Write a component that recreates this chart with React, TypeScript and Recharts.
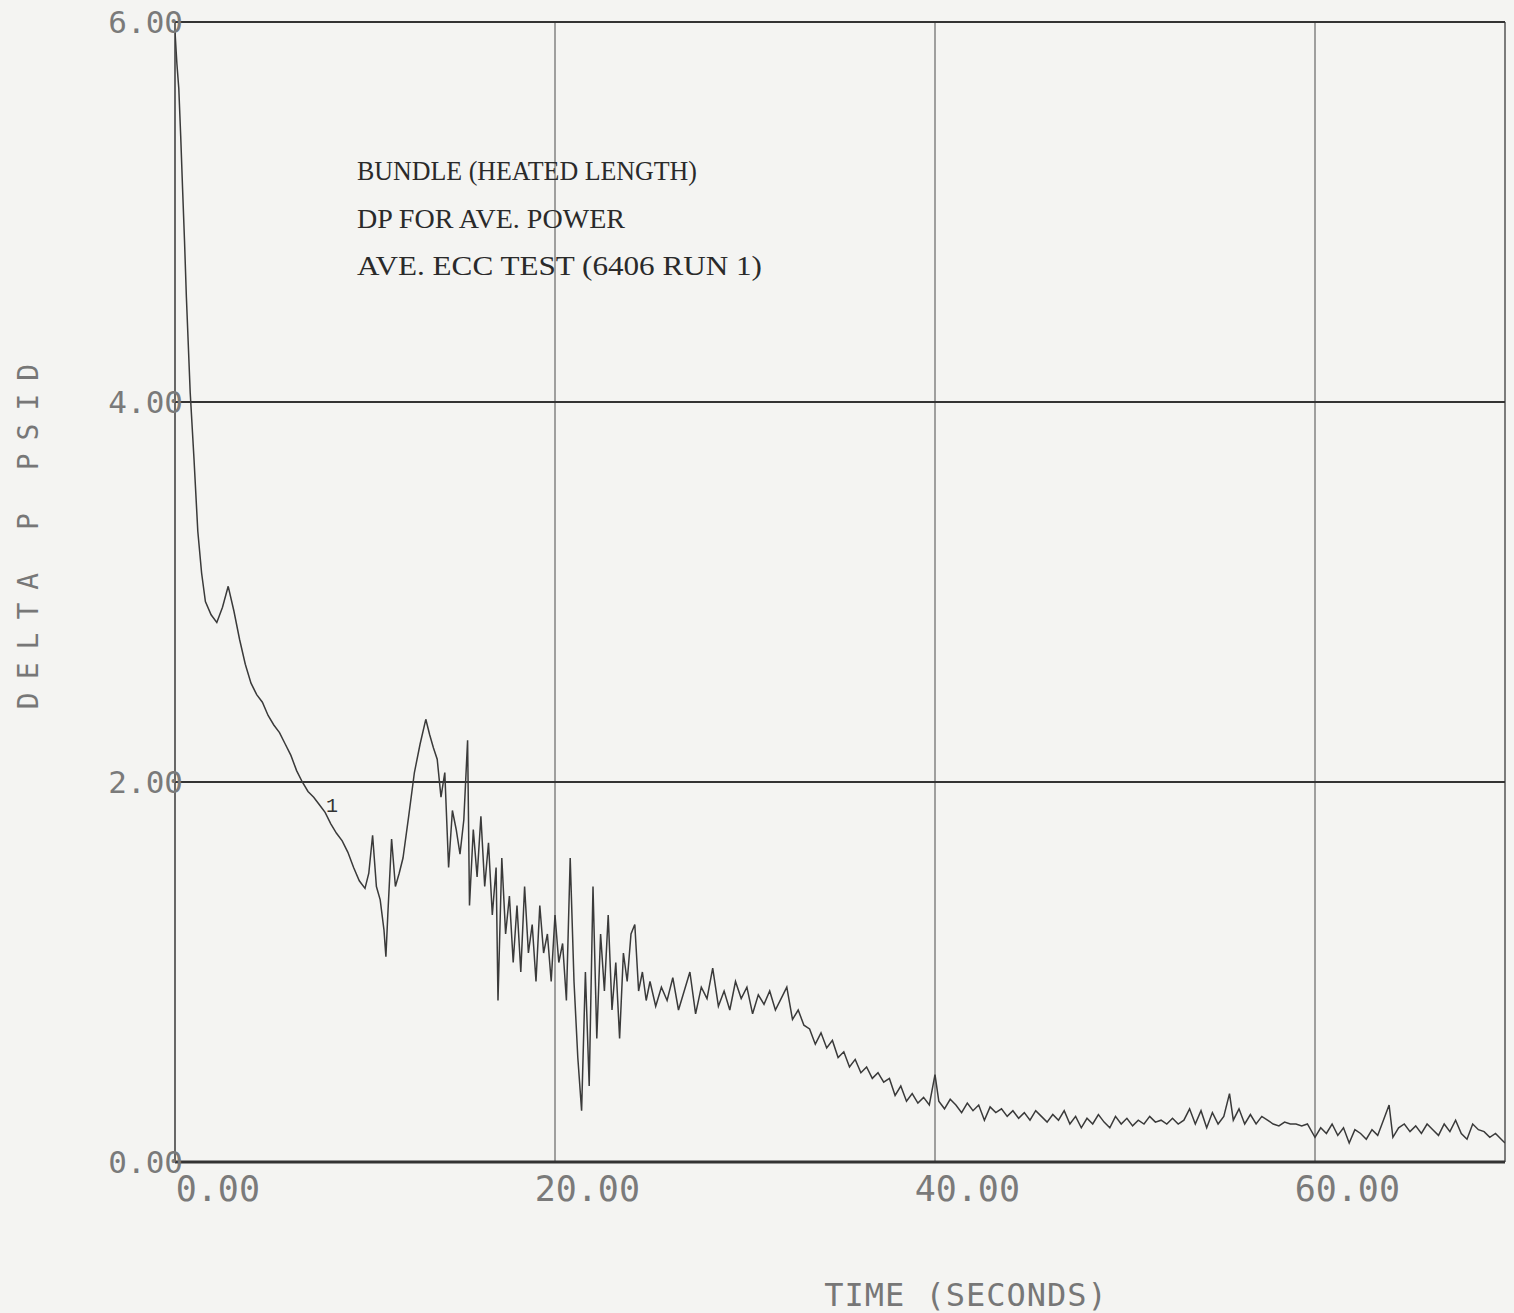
import { LineChart, Line, XAxis, YAxis, ReferenceLine } from 'recharts';

// time (s) and bundle delta-P (psid)
const TIMES = [
  0.0, 0.1, 0.2, 0.3, 0.4, 0.5, 0.6, 0.8, 1.0, 1.2, 1.4, 1.6, 1.9, 2.2, 2.5, 2.8,
  3.1, 3.4, 3.7, 4.0, 4.3, 4.6, 4.9, 5.2, 5.5, 5.8, 6.1, 6.4, 6.7, 7.0, 7.3, 7.6,
  7.9, 8.2, 8.5, 8.8, 9.1, 9.4, 9.7, 10.0, 10.2, 10.4, 10.6, 10.8, 11.0, 11.1,
  11.2, 11.4, 11.6, 11.8, 12.0, 12.3, 12.6, 12.9, 13.2, 13.4, 13.6, 13.8,
  14.0, 14.2, 14.4, 14.6, 14.8, 15.0, 15.2, 15.4, 15.5, 15.7, 15.9, 16.1, 16.3,
  16.5, 16.7, 16.9, 17.0, 17.2, 17.4, 17.6, 17.8, 18.0, 18.2, 18.4, 18.6, 18.8,
  19.0, 19.2, 19.4, 19.6, 19.8, 20.0, 20.2, 20.4, 20.6, 20.8, 21.0, 21.2, 21.4,
  21.6, 21.8, 22.0, 22.2, 22.4, 22.6, 22.8, 23.0, 23.2, 23.4, 23.6, 23.8, 24.0,
  24.2, 24.4, 24.6, 24.8,
  25.0, 25.3, 25.6, 25.9, 26.2, 26.5, 26.8, 27.1, 27.4, 27.7, 28.0, 28.3, 28.6,
  28.9, 29.2, 29.5, 29.8, 30.1, 30.4, 30.7, 31.0, 31.3, 31.6, 31.9, 32.2, 32.5,
  32.8, 33.1, 33.4, 33.7, 34.0, 34.3, 34.6, 34.9, 35.2, 35.5, 35.8, 36.1, 36.4,
  36.7, 37.0, 37.3, 37.6, 37.9, 38.2, 38.5, 38.8, 39.1, 39.4, 39.7, 40.0, 40.2,
  40.5, 40.8, 41.1, 41.4, 41.7, 42.0, 42.3, 42.6, 42.9, 43.2, 43.5, 43.8, 44.1,
  44.4, 44.7, 45.0, 45.3, 45.6, 45.9, 46.2, 46.5, 46.8, 47.1, 47.4, 47.7, 48.0,
  48.3, 48.6, 48.9, 49.2, 49.5, 49.8, 50.1, 50.4, 50.7, 51.0, 51.3, 51.6, 51.9,
  52.2, 52.5, 52.8, 53.1, 53.4, 53.7, 54.0, 54.3, 54.6, 54.9, 55.2, 55.5, 55.7,
  56.0, 56.3, 56.6, 56.9, 57.2, 57.5, 57.8, 58.1, 58.4, 58.7, 59.0, 59.3, 59.6,
  60.0, 60.3, 60.6, 60.9, 61.2, 61.5, 61.8, 62.1, 62.4, 62.7, 63.0, 63.3, 63.6,
  63.9, 64.1, 64.4, 64.7, 65.0, 65.3, 65.6, 65.9, 66.2, 66.5, 66.8, 67.1, 67.4,
  67.7, 68.0, 68.3, 68.6, 68.9, 69.2, 69.5, 69.8, 70.0,
];

const DELTA_P = [
  5.95, 5.78, 5.65, 5.4, 5.12, 4.85, 4.55, 4.05, 3.7, 3.32, 3.1, 2.95, 2.88, 2.84, 2.92, 3.03,
  2.9, 2.75, 2.62, 2.52, 2.46, 2.42, 2.35, 2.3, 2.26, 2.2, 2.14, 2.06, 2.0, 1.95, 1.92, 1.88,
  1.84, 1.78, 1.73, 1.69, 1.63, 1.55, 1.48, 1.44, 1.52, 1.72, 1.45, 1.38, 1.22, 1.08,
  1.3, 1.7, 1.45, 1.52, 1.6, 1.82, 2.05, 2.2, 2.33, 2.25, 2.18, 2.12,
  1.92, 2.05, 1.55, 1.85, 1.75, 1.62, 1.8, 2.22, 1.35, 1.75, 1.5, 1.82, 1.45,
  1.68, 1.3, 1.55, 0.85, 1.6, 1.2, 1.4, 1.05, 1.35, 1.0, 1.45, 1.1, 1.25,
  0.95, 1.35, 1.1, 1.2, 0.95, 1.3, 1.05, 1.15, 0.85, 1.6, 0.95, 0.55, 0.27,
  1.0, 0.4, 1.45, 0.65, 1.2, 0.9, 1.3, 0.8, 1.05, 0.65, 1.1, 0.95, 1.2,
  1.25, 0.9, 1.0, 0.85,
  0.95, 0.82, 0.92, 0.85, 0.97, 0.8, 0.9, 1.0, 0.78, 0.92, 0.86, 1.02, 0.82,
  0.9, 0.8, 0.95, 0.86, 0.92, 0.78, 0.88, 0.83, 0.9, 0.8, 0.86, 0.92, 0.75,
  0.8, 0.72, 0.7, 0.62, 0.68, 0.6, 0.64, 0.55, 0.58, 0.5, 0.54, 0.47, 0.5,
  0.44, 0.47, 0.42, 0.44, 0.35, 0.4, 0.32, 0.36, 0.31, 0.34, 0.3, 0.46, 0.32,
  0.28, 0.33, 0.3, 0.26, 0.31, 0.27, 0.3, 0.22, 0.29, 0.26, 0.28, 0.24, 0.27,
  0.23, 0.26, 0.22, 0.27, 0.24, 0.21, 0.25, 0.22, 0.27, 0.2, 0.24, 0.18, 0.23,
  0.2, 0.25, 0.21, 0.18, 0.24, 0.2, 0.23, 0.19, 0.22, 0.2, 0.24, 0.21, 0.22,
  0.2, 0.23, 0.2, 0.22, 0.28, 0.2, 0.27, 0.18, 0.26, 0.2, 0.24, 0.36, 0.22,
  0.28, 0.2, 0.25, 0.2, 0.24, 0.22, 0.2, 0.19, 0.21, 0.2, 0.2, 0.19, 0.2,
  0.13, 0.18, 0.15, 0.2, 0.14, 0.18, 0.1, 0.17, 0.15, 0.12, 0.17, 0.14, 0.22,
  0.3, 0.13, 0.18, 0.2, 0.16, 0.19, 0.15, 0.2, 0.17, 0.14, 0.2, 0.16, 0.22,
  0.15, 0.12, 0.2, 0.17, 0.16, 0.13, 0.15, 0.12, 0.1,
];

const X_TICKS = [0, 20, 40, 60];
const Y_TICKS = [0, 2, 4, 6];
const NOTES = ['BUNDLE (HEATED LENGTH)', 'DP FOR AVE. POWER', 'AVE. ECC TEST (6406 RUN 1)'];
const NOTE_WIDTHS = [340, 268, 405];

const data = TIMES.map((t, i) => ({ t, dp: DELTA_P[i] }));

const tickFont = '"DejaVu Sans Mono", monospace';

function XTick({ x, y, payload }: any) {
  return (
    <text x={x + 85} y={y + 31} textAnchor="end" fontFamily={tickFont} fontSize={35} fill="#7a7a7a">
      {payload.value.toFixed(2)}
    </text>
  );
}

function YTick({ y, payload }: any) {
  return (
    <text x={183} y={y + 11} textAnchor="end" fontFamily={tickFont} fontSize={31} fill="#7a7a7a">
      {payload.value.toFixed(2)}
    </text>
  );
}

export default function App() {
  return (
    <div style={{ position: 'absolute', left: 0, top: 0, width: 1514, height: 1313, background: '#f4f4f2' }}>
      <LineChart width={1514} height={1313} data={data} margin={{ top: 22, right: 9, bottom: 91, left: 100 }}>
        <XAxis
          type="number"
          dataKey="t"
          domain={[0, 70]}
          ticks={X_TICKS}
          height={60}
          axisLine={false}
          tickLine={false}
          tick={<XTick />}
          allowDataOverflow
        />
        <YAxis
          type="number"
          domain={[0, 6]}
          ticks={Y_TICKS}
          width={75}
          axisLine={false}
          tickLine={false}
          tick={<YTick />}
          allowDataOverflow
        />
        <ReferenceLine x={20} stroke="#666" strokeWidth={1.2} />
        <ReferenceLine x={40} stroke="#666" strokeWidth={1.2} />
        <ReferenceLine x={60} stroke="#666" strokeWidth={1.2} />
        <ReferenceLine x={70} stroke="#555" strokeWidth={1.5} />
        <ReferenceLine x={0} stroke="#444" strokeWidth={1.6} />
        <ReferenceLine y={2} stroke="#333" strokeWidth={2.2} />
        <ReferenceLine y={4} stroke="#333" strokeWidth={2.2} />
        <ReferenceLine y={6} stroke="#333" strokeWidth={2.2} />
        <ReferenceLine y={0} stroke="#333" strokeWidth={2.8} />
        <Line
          type="linear"
          dataKey="dp"
          stroke="#3a3a3a"
          strokeWidth={1.5}
          dot={false}
          isAnimationActive={false}
        />
      </LineChart>
      <svg width={1514} height={1313} style={{ position: 'absolute', left: 0, top: 0, pointerEvents: 'none' }}>
        {NOTES.map((line, i) => (
          <text
            key={line}
            x={357}
            y={180 + i * 47.5}
            fontFamily='"Liberation Serif", serif'
            fontSize={27}
            textLength={NOTE_WIDTHS[i]}
            lengthAdjust="spacingAndGlyphs"
            fill="#2a2a2a"
          >
            {line}
          </text>
        ))}
        <text x={326} y={812} fontFamily='"Liberation Mono", monospace' fontSize={20} fill="#333">
          1
        </text>
        <text
          x={38}
          y={530}
          transform="rotate(-90 38 530)"
          textAnchor="middle"
          fontFamily={tickFont}
          fontSize={28}
          letterSpacing={13}
          fill="#777"
        >
          DELTA P PSID
        </text>
        <text
          x={966}
          y={1306}
          textAnchor="middle"
          fontFamily={tickFont}
          fontSize={32}
          letterSpacing={1}
          fill="#777"
        >
          TIME (SECONDS)
        </text>
      </svg>
    </div>
  );
}
